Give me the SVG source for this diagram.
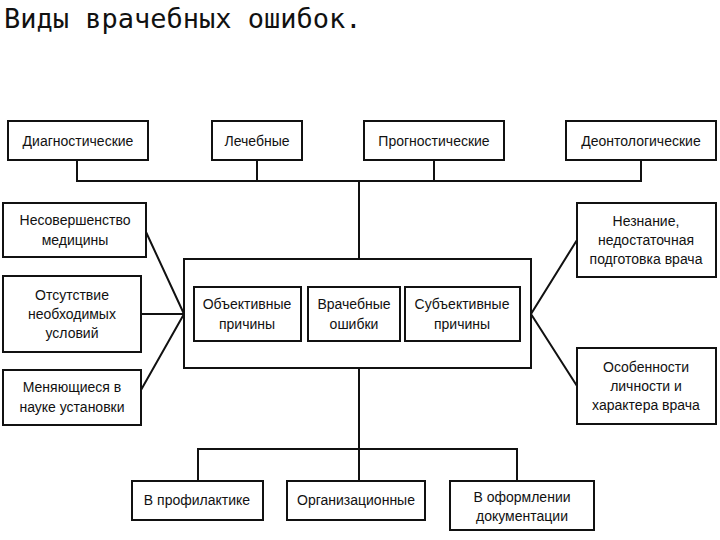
<svg xmlns="http://www.w3.org/2000/svg" width="720" height="540" viewBox="0 0 720 540">
<style>
.b{fill:#fff;stroke:#111;stroke-width:2}
.t{font-family:"Liberation Sans",Arial,sans-serif;font-size:14px;fill:#111;text-anchor:middle}
.c{fill:none;stroke:#111;stroke-width:2}
</style>
<rect width="720" height="540" fill="#fff"/>
<text x="4" y="28" font-family="DejaVu Sans Mono,monospace" font-size="27" fill="#111">Виды врачебных ошибок.</text>
<g id="connectors">
<path class="c" d="M77 160V181H641V160M257 160V181M434 160V181M359 181V259"/>
<path class="c" d="M359 368V449M198 481V449H517V481M359 449V481"/>
<path class="c" d="M146 232L184 314M141 314H184M141 390L184 314"/>
<path class="c" d="M577 240L531 314L577 386"/>
</g>
<g id="n1"><rect class="b" x="8" y="121" width="140" height="39"/><text class="t" x="78" y="146">Диагностические</text></g>
<g id="n2"><rect class="b" x="212" y="121" width="90" height="39"/><text class="t" x="257" y="146">Лечебные</text></g>
<g id="n3"><rect class="b" x="364" y="121" width="140" height="39"/><text class="t" x="434" y="146">Прогностические</text></g>
<g id="n4"><rect class="b" x="566" y="121" width="150" height="39"/><text class="t" x="641" y="146">Деонтологические</text></g>
<g id="center"><rect class="b" x="184" y="259" width="347" height="109"/></g>
<g id="n5"><rect class="b" x="194" y="287" width="107" height="54"/><text class="t" x="247" y="309">Объективные</text><text class="t" x="247" y="329">причины</text></g>
<g id="n6"><rect class="b" x="308" y="287" width="92" height="54"/><text class="t" x="354" y="309">Врачебные</text><text class="t" x="354" y="329">ошибки</text></g>
<g id="n7"><rect class="b" x="405" y="287" width="115" height="54"/><text class="t" x="462" y="309">Субъективные</text><text class="t" x="462" y="329">причины</text></g>
<g id="n8"><rect class="b" x="3" y="203" width="143" height="54"/><text class="t" x="75" y="225">Несовершенство</text><text class="t" x="75" y="245">медицины</text></g>
<g id="n9"><rect class="b" x="3" y="276" width="138" height="76"/><text class="t" x="72" y="300">Отсутствие</text><text class="t" x="72" y="319">необходимых</text><text class="t" x="72" y="338">условий</text></g>
<g id="n10"><rect class="b" x="3" y="370" width="138" height="55"/><text class="t" x="72" y="392">Меняющиеся в</text><text class="t" x="72" y="412">науке установки</text></g>
<g id="n11"><rect class="b" x="577" y="203" width="139" height="74"/><text class="t" x="646" y="226">Незнание,</text><text class="t" x="646" y="245">недостаточная</text><text class="t" x="646" y="264">подготовка врача</text></g>
<g id="n12"><rect class="b" x="577" y="348" width="139" height="76"/><text class="t" x="646" y="372">Особенности</text><text class="t" x="646" y="391">личности и</text><text class="t" x="646" y="410">характера врача</text></g>
<g id="n13"><rect class="b" x="132" y="481" width="131" height="39"/><text class="t" x="197" y="505">В профилактике</text></g>
<g id="n14"><rect class="b" x="287" y="481" width="138" height="39"/><text class="t" x="356" y="505">Организационные</text></g>
<g id="n15"><rect class="b" x="450" y="481" width="144" height="49"/><text class="t" x="522" y="502">В оформлении</text><text class="t" x="522" y="521">документации</text></g>
</svg>
